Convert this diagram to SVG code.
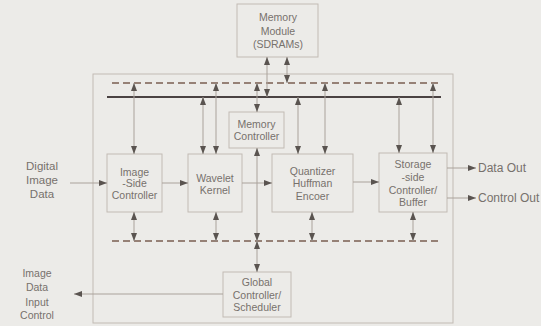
<svg xmlns="http://www.w3.org/2000/svg" width="541" height="326" viewBox="0 0 541 326">
<defs>
<marker id="ah" viewBox="0 0 8 6" refX="8" refY="3" markerWidth="8" markerHeight="6" markerUnits="userSpaceOnUse" orient="auto-start-reverse">
<path d="M0,0 L8,3 L0,6 z" fill="#5a5450"/>
</marker>
<style>
.box{fill:#ecebe8;stroke:#c2bbb4;stroke-width:1}
.t{font-family:"Liberation Sans",Arial,sans-serif;font-size:10.5px;fill:#77716c;text-anchor:middle}
.lt{font-family:"Liberation Sans",Arial,sans-serif;font-size:11.5px;fill:#77716c;text-anchor:middle}
.rt{font-family:"Liberation Sans",Arial,sans-serif;font-size:12px;fill:#77716c}
.c{stroke:#aaa29b;stroke-width:1;fill:none}
.b2{marker-start:url(#ah);marker-end:url(#ah)}
.b1{marker-end:url(#ah)}
.dash{stroke:#7a5f50;stroke-width:1.6;stroke-dasharray:7 4;fill:none}
.bus{stroke:#4a4242;stroke-width:2;fill:none}
</style>
</defs>
<rect x="0" y="0" width="541" height="326" fill="#ecebe8"/>
<g id="outer"><rect x="93" y="74" width="360" height="249" class="box" fill="none"/></g>
<g id="buses">
<line x1="112" y1="83" x2="440" y2="83" class="dash"/>
<line x1="107" y1="97" x2="441" y2="97" class="bus"/>
<line x1="112" y1="241" x2="440" y2="241" class="dash"/>
</g>
<g id="memory-module"><rect x="237" y="4" width="81" height="53" class="box"/>
<text class="t" x="278" y="21">Memory</text><text class="t" x="278" y="35">Module</text><text class="t" x="278" y="48">(SDRAMs)</text></g>
<g id="memory-controller"><rect x="229" y="112" width="55" height="36" class="box"/>
<text class="t" x="256.5" y="128">Memory</text><text class="t" x="256.5" y="140">Controller</text></g>
<g id="image-side"><rect x="107" y="154" width="55" height="58" class="box"/>
<text class="t" x="134.5" y="176">Image</text><text class="t" x="134.5" y="187">-Side</text><text class="t" x="134.5" y="199">Controller</text></g>
<g id="wavelet"><rect x="188" y="154" width="54" height="58" class="box"/>
<text class="t" x="215" y="182">Wavelet</text><text class="t" x="215" y="194">Kernel</text></g>
<g id="quantizer"><rect x="272" y="154" width="81" height="58" class="box"/>
<text class="t" x="312.5" y="175">Quantizer</text><text class="t" x="312.5" y="187">Huffman</text><text class="t" x="312.5" y="200">Encoer</text></g>
<g id="storage"><rect x="379" y="153" width="68" height="59" class="box"/>
<text class="t" x="413" y="168">Storage</text><text class="t" x="413" y="181">-side</text><text class="t" x="413" y="194">Controller/</text><text class="t" x="413" y="206">Buffer</text></g>
<g id="global"><rect x="223" y="272" width="68" height="45" class="box"/>
<text class="t" x="257" y="286">Global</text><text class="t" x="257" y="299">Controller/</text><text class="t" x="257" y="311">Scheduler</text></g>
<g id="labels">
<text class="lt" x="42" y="170">Digital</text><text class="lt" x="42" y="184">Image</text><text class="lt" x="42" y="198">Data</text>
<text class="rt" x="478" y="172">Data Out</text><text class="rt" x="478" y="202">Control Out</text>
<text class="t" x="37" y="277">Image</text><text class="t" x="37" y="291">Data</text><text class="t" x="37" y="306">Input</text><text class="t" x="37" y="319">Control</text>
</g>
<g id="connectors">
<line class="c b2" x1="267" y1="57" x2="267" y2="97"/>
<line class="c b2" x1="287" y1="57" x2="287" y2="83"/>
<line class="c b2" x1="134" y1="83" x2="134" y2="154"/>
<line class="c b2" x1="203" y1="97" x2="203" y2="154"/>
<line class="c b2" x1="216" y1="83" x2="216" y2="154"/>
<line class="c b2" x1="257" y1="83" x2="257" y2="112"/>
<line class="c b2" x1="298" y1="97" x2="298" y2="154"/>
<line class="c b2" x1="325" y1="83" x2="325" y2="154"/>
<line class="c b2" x1="399" y1="97" x2="399" y2="153"/>
<line class="c b2" x1="433" y1="83" x2="433" y2="153"/>
<line class="c b2" x1="134" y1="212" x2="134" y2="241"/>
<line class="c b2" x1="216" y1="212" x2="216" y2="241"/>
<line class="c b2" x1="257" y1="148" x2="257" y2="241"/>
<line class="c b2" x1="312" y1="212" x2="312" y2="241"/>
<line class="c b2" x1="413" y1="212" x2="413" y2="241"/>
<line class="c b2" x1="257" y1="241" x2="257" y2="272"/>
<line class="c b1" x1="70" y1="183" x2="107" y2="183"/>
<line class="c b1" x1="162" y1="183" x2="188" y2="183"/>
<line class="c b1" x1="242" y1="183" x2="272" y2="183"/>
<line class="c b1" x1="353" y1="182" x2="379" y2="182"/>
<line class="c b1" x1="447" y1="168" x2="476" y2="168"/>
<line class="c b1" x1="447" y1="198" x2="476" y2="198"/>
<line class="c b1" x1="223" y1="294" x2="74" y2="294"/>
</g>
</svg>
